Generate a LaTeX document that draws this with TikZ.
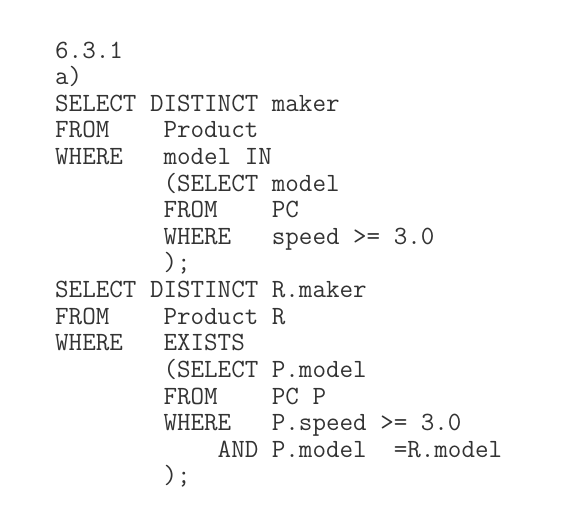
\documentclass[tikz,border=0pt]{standalone}
\usepackage{fontspec}
\usetikzlibrary{positioning}

\begin{document}
\begin{tikzpicture}[
  x=1pt, y=1pt,
  every node/.style={font=\ttfamily\fontsize{26.3}{26.2}\selectfont, text=black!80},
  code/.style={inner sep=0pt, text height=19.5pt, text depth=6.7pt, anchor=north west}
]
\useasboundingbox (0,0) rectangle (582,-532);
% Nodes
\node[code] (title) at (55,-38.5) {6.3.1};
\node[code] (part) at (title.south west) {a)};
\node[code] (selA) at (part.south west) {SELECT DISTINCT maker};
\node[code] (fromA) at (selA.south west) {FROM~~~~Product};
\node[code] (whereA) at (fromA.south west) {WHERE~~~model IN};
\node[code] (subselA) at (whereA.south west) {~~~~~~~~(SELECT model};
\node[code] (subfromA) at (subselA.south west) {~~~~~~~~FROM~~~~PC};
\node[code] (subwhereA) at (subfromA.south west) {~~~~~~~~WHERE~~~speed >= 3.0};
\node[code] (closeA) at (subwhereA.south west) {~~~~~~~~);};
\node[code] (selB) at (closeA.south west) {SELECT DISTINCT R.maker};
\node[code] (fromB) at (selB.south west) {FROM~~~~Product R};
\node[code] (whereB) at (fromB.south west) {WHERE~~~EXISTS};
\node[code] (subselB) at (whereB.south west) {~~~~~~~~(SELECT P.model};
\node[code] (subfromB) at (subselB.south west) {~~~~~~~~FROM~~~~PC P};
\node[code] (subwhereB) at (subfromB.south west) {~~~~~~~~WHERE~~~P.speed >= 3.0};
\node[code] (andB) at (subwhereB.south west) {~~~~~~~~~~~~AND P.model~~=R.model};
\node[code] (closeB) at (andB.south west) {~~~~~~~~);};

\end{tikzpicture}
\end{document}
